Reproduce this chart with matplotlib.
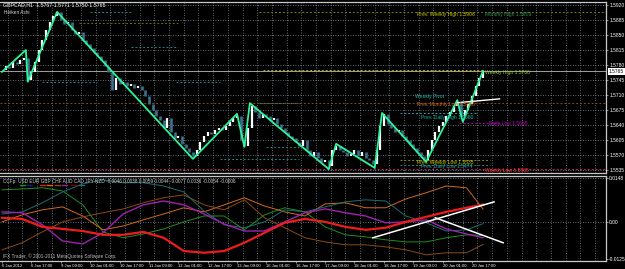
import numpy as np
import matplotlib.pyplot as plt

plt.rcParams['font.family'] = ['Liberation Sans', 'DejaVu Sans']

# GBPCAD H1 heiken ashi closes, one value every 2 bars
closes = [1.5768, 1.5778, 1.5773, 1.5787, 1.5782, 1.5792, 1.5796,
          1.5745, 1.5764,
          1.5787, 1.5815, 1.5838, 1.5862, 1.5880, 1.5894, 1.5904,
          1.5885, 1.5876, 1.5880, 1.5862, 1.5852, 1.5857, 1.5838, 1.5829, 1.5820, 1.5810, 1.5801, 1.5792, 1.5778,
          1.5764, 1.5722, 1.5750, 1.5736,
          1.5740, 1.5731, 1.5736, 1.5726, 1.5731, 1.5722, 1.5708, 1.5689,
          1.5675, 1.5661, 1.5652, 1.5633, 1.5656,
          1.5624, 1.5610, 1.5614, 1.5596, 1.5586, 1.5577, 1.5568,
          1.5582, 1.5600, 1.5614, 1.5624, 1.5619, 1.5628, 1.5633, 1.5628, 1.5638, 1.5647, 1.5656, 1.5661,
          1.5605, 1.5591, 1.5633,
          1.5684, 1.5670, 1.5656, 1.5666, 1.5661, 1.5652, 1.5656, 1.5642, 1.5633, 1.5624, 1.5614, 1.5610, 1.5600,
          1.5591, 1.5605, 1.5582, 1.5568, 1.5577, 1.5563, 1.5554, 1.5558, 1.5544,
          1.5582, 1.5591, 1.5582, 1.5577, 1.5568, 1.5572, 1.5582, 1.5568, 1.5577, 1.5563, 1.5558, 1.5549,
          1.5582, 1.5638, 1.5666,
          1.5642, 1.5633, 1.5624, 1.5628, 1.5614, 1.5605, 1.5596, 1.5586, 1.5577, 1.5568, 1.5558,
          1.5582, 1.5605, 1.5624, 1.5638, 1.5647, 1.5661, 1.5670, 1.5684, 1.5694,
          1.5661, 1.5675, 1.5689, 1.5708, 1.5731, 1.5750, 1.5765]

zz_bars = [0, 13, 14, 30, 104, 128, 132, 135, 178, 182, 203, 207, 231, 248, 251, 262]
zz_prices = [1.5764, 1.5815, 1.5741, 1.5904, 1.5561, 1.5666, 1.5589, 1.5691,
             1.5537, 1.5596, 1.5540, 1.5668, 1.5554, 1.5698, 1.5647, 1.5766]

# horizontal level segments (start bar, end bar, price)
lvl_start = [48, 42, 70, 142, 22, 95, 140, -1, 217, 249, 144, 119, 217, 217, -1, 140]
lvl_end = [71, 96, 96, 262, 52, 119, 162, 329, 258, 271, 162, 162, 266, 266, 329, 329]
lvl_price = [1.5904, 1.5878, 1.5822, 1.5768, 1.5740, 1.5740, 1.5692, 1.5692,
             1.5668, 1.5645, 1.5589, 1.5561, 1.5558, 1.5546, 1.5537, 1.5904]
lvl_color = ['#2f7f7f', '#6b6b00', '#2f7f7f', '#b0b000', '#2f7f7f', '#2f7f7f', '#2f7f7f', '#8b4513',
             '#2f9f9f', '#b000b0', '#2f7f7f', '#2f7f7f', '#8b8b00', '#2f7f7f', '#c02060', '#7a7a00']

lbl_text = ['Prev. Weekly High 1.5906', 'Monthly High 1.5909', 'Weekly High 1.5766',
            'Weekly Pivot', 'Prev. Monthly Low 1.5708', 'Prev. Daily High 1.5680',
            'Daily Low 1.5658', 'Prev. Weekly Low 1.5535', 'Prev. Daily Low 1.5474',
            'Weekly Low 1.5535']
lbl_bar = [226, 263, 263, 225, 226, 228, 265, 226, 228, 263]
lbl_price = [1.5897, 1.5897, 1.5762, 1.5706, 1.5688, 1.5658, 1.5643, 1.5552, 1.5543, 1.5533]
lbl_color = ['#c8c800', '#2e8b57', '#9acd32', '#20b2aa', '#d2691e', '#20b2aa',
             '#c000c0', '#c8c800', '#20b2aa', '#ff3030']

price_ticks = [1.5920, 1.5885, 1.5850, 1.5815, 1.5780, 1.5745, 1.5710,
               1.5675, 1.5640, 1.5605, 1.5570, 1.5535]
last_price = 1.5765

time_labels = ['6 Jan 2012', '6 Jan 17:00', '9 Jan 09:00', '10 Jan 01:00', '10 Jan 17:00',
               '11 Jan 09:00', '12 Jan 01:00', '12 Jan 17:00', '13 Jan 09:00', '16 Jan 01:00',
               '16 Jan 17:00', '17 Jan 09:00', '18 Jan 01:00', '18 Jan 17:00', '19 Jan 09:00',
               '20 Jan 01:00', '20 Jan 17:00']

# CCFp currency strength, sampled every 11 bars
ccf_bars = [0, 11, 22, 33, 44, 55, 66, 77, 88, 99, 110, 121, 132, 143, 154,
            165, 176, 187, 198, 209, 220, 231, 242, 253, 262]
usd = [0.0109, 0.0112, 0.0116, 0.0105, 0.0058, -0.0034, -0.0054, -0.0041, -0.0024, 0.0000, 0.0020, 0.0020,
       -0.0027, 0.0024, 0.0048, 0.0034, -0.0017, -0.0044, -0.0051, -0.0061, -0.0068, -0.0068, -0.0054, -0.0044, -0.0046]
gbp = [0.0014, 0.0010, -0.0017, -0.0024, -0.0031, -0.0044, -0.0044, -0.0034, -0.0054, -0.0099, -0.0105, -0.0099,
       -0.0071, -0.0037, -0.0003, 0.0010, 0.0000, -0.0017, -0.0027, -0.0020, 0.0000, 0.0017, 0.0034, 0.0048, 0.0059]
chf = [0.0000, 0.0024, 0.0041, 0.0051, 0.0020, -0.0027, -0.0014, 0.0007, 0.0027, 0.0048, 0.0034, 0.0058,
       0.0082, 0.0054, 0.0034, 0.0020, 0.0061, 0.0065, 0.0048, 0.0048, 0.0078, 0.0099, 0.0122, 0.0116, 0.0044]
aud = [-0.0095, -0.0071, -0.0034, 0.0000, 0.0017, 0.0031, 0.0044, 0.0065, 0.0082, 0.0092, 0.0058, 0.0041,
       0.0075, 0.0014, -0.0020, -0.0054, -0.0068, -0.0078, -0.0078, -0.0085, -0.0095, -0.0112, -0.0105, -0.0105, -0.0077]
jpy = [0.0034, 0.0031, -0.0010, -0.0065, -0.0075, -0.0037, 0.0027, 0.0058, 0.0071, 0.0058, 0.0027, -0.0007,
       -0.0031, -0.0031, 0.0000, 0.0031, 0.0044, 0.0031, 0.0020, -0.0003, 0.0000, 0.0007, -0.0024, -0.0041, -0.0054]
nzd = [0.0027, 0.0034, 0.0065, 0.0102, 0.0129, 0.0143, 0.0133, 0.0133, 0.0122, 0.0102, 0.0037, -0.0010,
       -0.0020, 0.0000, 0.0041, 0.0034, 0.0051, 0.0068, 0.0075, 0.0071, 0.0020, -0.0003, -0.0031, -0.0027, -0.0006]
ccf_header = 'CCFp: USD EUR GBP CHF AUD CAD JPY NZD -0.0046 0.0038 0.0059 0.0044 -0.0077 0.0036 -0.0054 -0.0006'
ccf_ticks = [0.0148, 0.0, -0.0125]
ccf_ticklabels = ['0.0148', '0.00', '-0.0125']

trend_top = ([248, 271], [1.5692, 1.5701])
trend_b1 = ([202, 268], [-0.0054, 0.0068])
trend_b2 = ([236, 273], [0.0014, -0.0071])

W, H = 625, 269
fig = plt.figure(figsize=(W / 100, H / 100), dpi=100, facecolor='black')
ax = fig.add_axes([0, 1 - 173 / H, 606 / W, 171 / H], facecolor='black')
ax2 = fig.add_axes([0, 1 - 261 / H, 606 / W, 85 / H], facecolor='black')

grid_kw = dict(color='#7f8c96', lw=0.6, ls=(0, (1, 2)), zorder=0)
xgrid = np.arange(3, 330, 8)
for a in (ax, ax2):
    a.set_xlim(-1.1, 329)
    for g in xgrid:
        a.axvline(g, **grid_kw)
    for s in a.spines.values():
        s.set_color('#c8c8c8')
        s.set_linewidth(0.9)
    a.spines['left'].set_visible(False)
    a.yaxis.tick_right()
    a.tick_params(colors='#c8c8c8', labelcolor='white', labelsize=3.5, length=1.5, width=0.5, pad=0.8)

# top panel
ax.set_ylim(1.5528, 1.5927)
for p in price_ticks:
    ax.axhline(p, **grid_kw)
ax.set_yticks(price_ticks)
ax.set_yticklabels(['%.4f' % p for p in price_ticks])
ax.set_xticks([])

for s, e, p, c in zip(lvl_start, lvl_end, lvl_price, lvl_color):
    ax.plot([s, e], [p, p], color=c, lw=0.7, ls=(0, (2, 2)), zorder=1)
ax.axhline(last_price, color='#a0a0a0', lw=0.7, zorder=1)

cb = np.arange(len(closes)) * 2
cl = np.array(closes)
op = np.r_[cl[0], cl[:-1]]
up = cl >= op
ax.vlines(cb[~up], op[~up], cl[~up], color='#3d6f8e', lw=1.9, zorder=2)
ax.vlines(cb[up], op[up], cl[up], color='white', lw=1.6, zorder=3)
ax.plot(zz_bars, zz_prices, color='#2cf59a', lw=1.3, zorder=4)
ax.plot(*trend_top, color='white', lw=1.0, zorder=5)

for t, b, p, c in zip(lbl_text, lbl_bar, lbl_price, lbl_color):
    ax.text(b, p, t, color=c, fontsize=3.6, va='center', ha='left', zorder=6)

ax.text(1.005, (last_price - 1.5528) / (1.5927 - 1.5528), '%.4f' % last_price,
        transform=ax.transAxes, fontsize=3.5, color='black', va='center', ha='left',
        bbox=dict(boxstyle='square,pad=0.12', fc='white', ec='none'))
fig.text(3 / W, 1 - 5 / H, 'GBPCAD,H1  1.5767 1.5771 1.5750 1.5765', color='white',
         fontsize=3.8, va='center')
fig.text(4 / W, 1 - 12 / H, 'Heiken Ashi', color='#d0d0d0', fontsize=3.4, va='center')

# bottom panel
ax2.set_ylim(-0.0133, 0.0156)
ax2.axhline(0, **grid_kw)
ax2.axhline(0.0148, **grid_kw)
ax2.set_yticks(ccf_ticks)
ax2.set_yticklabels(ccf_ticklabels)
series = [(usd, '#1f8f1f', 0.7), (chf, '#d2691e', 0.7), (aud, '#8b4a14', 0.7),
          (nzd, '#1f6f6f', 0.7), (jpy, '#a020b0', 1.0), (gbp, '#ee1c1c', 1.6)]
for vals, c, lw in series:
    ax2.plot(ccf_bars, vals, color=c, lw=lw, zorder=3)
ax2.plot(*trend_b1, color='white', lw=1.1, zorder=5)
ax2.plot(*trend_b2, color='white', lw=1.1, zorder=5)

tb = np.arange(len(time_labels)) * 16
ax2.set_xticks(tb)
ax2.set_xticklabels(time_labels)
for lab in ax2.get_xticklabels():
    lab.set_horizontalalignment('left')
ax2.tick_params(axis='x', labelsize=3.0, pad=1)

fig.text(3 / W, 1 - 181 / H, ccf_header, color='#d0d0d0', fontsize=3.4, va='center')
leg_x = [20, 27, 40, 47, 55, 62, 71, 79]
leg_c = ['#1f8f1f', '#1a1a8b', '#ee1c1c', '#d2691e', '#8b4a14', '#a020b0', '#800000', '#1f6f6f']
for x0, c in zip(leg_x, leg_c):
    fig.add_artist(plt.Line2D([x0 / W, (x0 + 5) / W], [1 - 185 / H] * 2, color=c, lw=1.0))
fig.text(3 / W, 1 - 256 / H, 'IFX Trader, \u00a9 2001-2011 MetaQuotes Software Corp.',
         color='#c0c0c0', fontsize=3.4, va='center')

fig.savefig('out.png', dpi=100, facecolor='black')
